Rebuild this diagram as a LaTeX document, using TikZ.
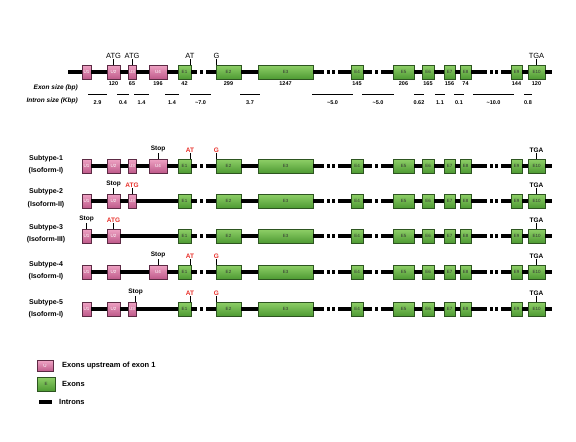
\documentclass[tikz,border=0pt]{standalone}
\usepackage{fontspec}
\setmainfont{Liberation Sans}
\usepackage{xcolor}
\usetikzlibrary{positioning}

\definecolor{upinklt}{HTML}{EFA3C4}
\definecolor{upinkdk}{HTML}{BE5A8A}
\definecolor{uline}{HTML}{5C2A44}
\definecolor{egrnlt}{HTML}{8FD068}
\definecolor{egrndk}{HTML}{4E9A33}
\definecolor{eline}{HTML}{2D5520}
\definecolor{atgred}{HTML}{E8302A}

% one gene row: #1 row name, #2 y, #3 upstream exons k/left/right
\newcommand{\generow}[3]{%
  \xdef\lastu{}%
  \foreach \k/\xl/\xr in {#3} {
    \node[ubox, minimum width=(\xr-\xl)*1pt] (#1U\k) at ({(\xl+\xr)/2},#2) {U\k};
    \ifx\lastu\empty\else \draw[intron] (\lastu) -- (#1U\k); \fi
    \xdef\lastu{#1U\k}
  }
  \foreach \k/\xl/\xr in {1/178/191,2/216/241,3/258/313,4/351/363,5/393/414,6/422/434,7/444/455,8/460/471,9/511/522,10/528/545}
    \node[exbox, minimum width=(\xr-\xl)*1pt] (#1E\k) at ({(\xl+\xr)/2},#2) {E\k};
  \coordinate (#1end) at (552,#2);
  \draw[intron] (\lastu) -- (#1E1);
  \draw[intron, brk1] (#1E1) -- (#1E2);
  \draw[intron] (#1E2) -- (#1E3);
  \draw[intron, brk2] (#1E3) -- (#1E4);
  \draw[intron, brk3] (#1E4) -- (#1E5);
  \draw[intron] (#1E5) -- (#1E6) (#1E6) -- (#1E7) (#1E7) -- (#1E8);
  \draw[intron, brk4] (#1E8) -- (#1E9);
  \draw[intron] (#1E9) -- (#1E10) (#1E10) -- (#1end);
}

\begin{document}
\begin{tikzpicture}[
    x=1pt, y=-1pt,
    ubox/.style={rectangle, draw=uline, line width=0.8pt, top color=upinklt, bottom color=upinkdk, minimum height=14pt, inner sep=0pt, outer sep=0pt, text=white, font=\fontsize{4.5}{5}\selectfont},
    exbox/.style={rectangle, draw=eline, line width=0.8pt, top color=egrnlt, bottom color=egrndk, minimum height=14pt, inner sep=0pt, outer sep=0pt, text=black!80, font=\fontsize{4.5}{5}\selectfont},
    intron/.style={line width=3.2pt},
    brk1/.style={dash pattern=on 6pt off 3pt on 3pt off 3pt on 40pt},
    brk2/.style={dash pattern=on 11pt off 3pt on 3pt off 2pt on 3pt off 3pt on 40pt},
    brk3/.style={dash pattern=on 9pt off 3pt on 3pt off 3pt on 40pt},
    brk4/.style={dash pattern=on 16pt off 3pt on 3pt off 2pt on 3pt off 3pt on 40pt},
    tick/.style={line width=0.8pt},
    sitelbl/.style={font=\fontsize{7.5}{8}\selectfont, inner sep=0.5pt},
    sitebf/.style={font=\bfseries\fontsize{6.5}{7}\selectfont, inner sep=0.5pt},
    sizetxt/.style={font=\bfseries\fontsize{5.5}{6}\selectfont, inner sep=0pt},
    sizebar/.style={line width=0.9pt},
    axlbl/.style={font=\bfseries\itshape\fontsize{6.5}{7}\selectfont, inner sep=0pt, anchor=east},
    typelbl/.style={font=\bfseries\fontsize{7}{12.5}\selectfont, align=center, inner sep=0pt},
    legtxt/.style={font=\bfseries\fontsize{7.5}{8}\selectfont, inner sep=0pt, anchor=west}
]
    \useasboundingbox (0,0) rectangle (576,442);

    % gene structure
    \generow{top}{72}{1/82/91,2/107/120,3/128/136,4/149/167}
    \coordinate (tops) at (68,72);
    \draw[intron] (tops) -- (topU1);
    \draw[tick] (topU2.north) -- ++(0,-6) node[sitelbl, above] {ATG};
    \draw[tick] (topU3.north) -- ++(0,-6) node[sitelbl, above] {ATG};
    \draw[tick] ([xshift=-1pt]topE1.north east) -- ++(0,-6) node[sitelbl, above] {AT};
    \draw[tick] ([xshift=0.5pt]topE2.north west) -- ++(0,-6) node[sitelbl, above] {G};
    \draw[tick] (topE10.north) -- ++(0,-6) node[sitelbl, above] {TGA};

    \node[axlbl] (exlbl) at (78,88) {Exon size (bp)};
    \node[axlbl] (inlbl) at (78,101) {Intron size (Kbp)};
    \foreach \n/\s in {U2/120,U3/65,U4/196,E1/42,E2/299,E3/1247,E4/145,E5/206,E6/165,E7/156,E8/74,E9/144,E10/120}
        \node[sizetxt, below=2.5pt of top\n] (sz\n) {\s};
    \foreach \xl/\xr/\t in {88/107/2.9,117/129/0.4,134/149/1.4,165/179/1.4,190/211/\textasciitilde7.0,240/260/3.7,312/353/\textasciitilde5.0,362/394/\textasciitilde5.0,414/424/0.62,435/445/1.1,454/464/0.1,473/514/\textasciitilde10.0,524/532/0.8}
        \draw[sizebar] (\xl,94) -- node[sizetxt, below=6pt] (il\xl) {\t} (\xr,94);

    % subtype 1
    \node[typelbl] (saname) at (46,164.5) {Subtype-1\\(Isoform-I)};
    \generow{sa}{166}{1/82/91,2/107/120,3/128/136,4/149/167}
    \draw[tick] (saU4.north) -- ++(0,-6) node[sitebf, above] {Stop};
    \draw[tick] ([xshift=-1pt]saE1.north east) -- ++(0,-6) node[sitebf, above, text=atgred] {AT};
    \draw[tick] ([xshift=0.5pt]saE2.north west) -- ++(0,-6) node[sitebf, above, text=atgred] {G};
    \draw[tick] (saE10.north) -- ++(0,-6) node[sitebf, above] {TGA};

    % subtype 2
    \node[typelbl] (sbname) at (46,198) {Subtype-2\\(Isoform-II)};
    \generow{sb}{201}{1/82/91,2/107/120,3/128/136}
    \draw[tick] (sbU2.north) -- ++(0,-6) node[sitebf, above] {Stop};
    \draw[tick] (sbU3.north) -- ++(0,-6) node[sitebf, above, text=atgred] {ATG};
    \draw[tick] (sbE10.north) -- ++(0,-6) node[sitebf, above] {TGA};

    % subtype 3
    \node[typelbl] (scname) at (46,233.5) {Subtype-3\\(Isoform-III)};
    \generow{sc}{236}{1/82/91,2/107/120}
    \draw[tick] (scU1.north) -- ++(0,-6) node[sitebf, above] {Stop};
    \draw[tick] (scU2.north) -- ++(0,-6) node[sitebf, above, text=atgred] {ATG};
    \draw[tick] (scE10.north) -- ++(0,-6) node[sitebf, above] {TGA};

    % subtype 4
    \node[typelbl] (sdname) at (46,270.5) {Subtype-4\\(Isoform-I)};
    \generow{sd}{272}{1/82/91,2/107/120,4/149/167}
    \draw[tick] (sdU4.north) -- ++(0,-6) node[sitebf, above] {Stop};
    \draw[tick] ([xshift=-1pt]sdE1.north east) -- ++(0,-6) node[sitebf, above, text=atgred] {AT};
    \draw[tick] ([xshift=0.5pt]sdE2.north west) -- ++(0,-6) node[sitebf, above, text=atgred] {G};
    \draw[tick] (sdE10.north) -- ++(0,-6) node[sitebf, above] {TGA};

    % subtype 5
    \node[typelbl] (sename) at (46,308.5) {Subtype-5\\(Isoform-I)};
    \generow{se}{309}{1/82/91,2/107/120,3/128/136}
    \draw[tick] ([xshift=-0.5pt]seU3.north east) -- ++(0,-6) node[sitebf, above] {Stop};
    \draw[tick] ([xshift=-1pt]seE1.north east) -- ++(0,-6) node[sitebf, above, text=atgred] {AT};
    \draw[tick] ([xshift=0.5pt]seE2.north west) -- ++(0,-6) node[sitebf, above, text=atgred] {G};
    \draw[tick] (seE10.north) -- ++(0,-6) node[sitebf, above] {TGA};

    % legend
    \node[ubox, minimum width=16pt, minimum height=11pt] (legu) at (45,366) {U};
    \node[exbox, minimum width=18pt, minimum height=14pt] (lege) at (46,384) {E};
    \coordinate (legia) at (39,402);
    \coordinate (legib) at (52,402);
    \draw[intron] (legia) -- (legib);
    \node[legtxt, right=9pt of legu] (legutxt) {Exons upstream of exon 1};
    \node[legtxt, right=7pt of lege] (legetxt) {Exons};
    \node[legtxt, right=7pt of legib] (legitxt) {Introns};
\end{tikzpicture}
\end{document}
